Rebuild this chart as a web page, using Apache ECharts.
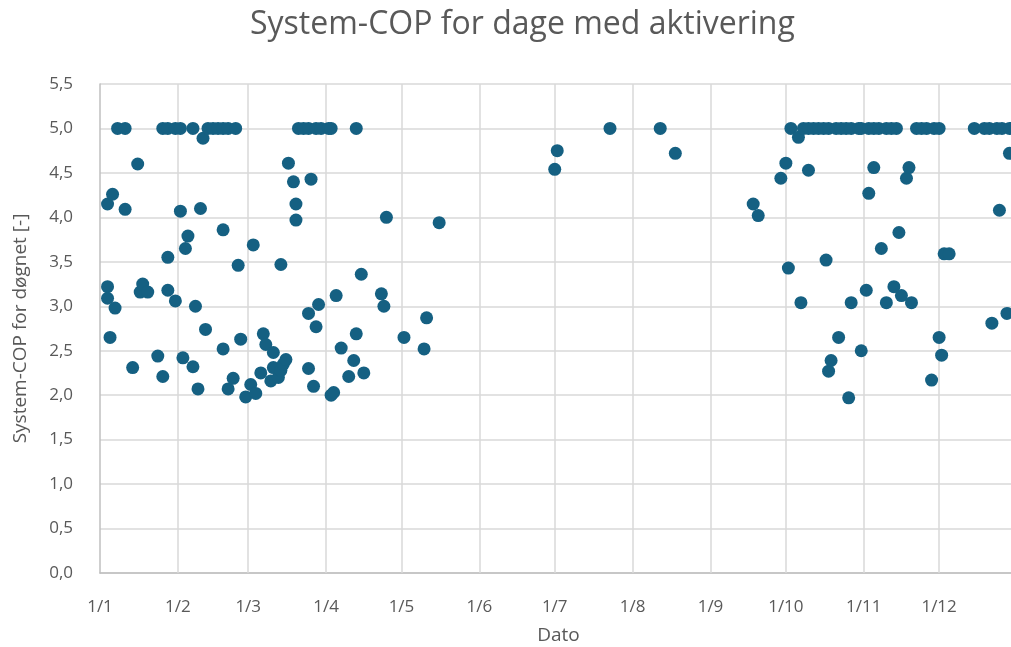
<!DOCTYPE html>
<html>
<head>
<meta charset="utf-8">
<script src="https://cdn.jsdelivr.net/npm/echarts@6/dist/echarts.min.js"></script>
<style>
  html, body { margin: 0; padding: 0; background: #ffffff; }
  #chart { width: 1011px; height: 647px; }
</style>
</head>
<body>
<div id="chart"></div>
<script>
// Daily system COP on days with activation (values above 5 shown as 5,0)
const YEAR = 2023;
const days = [
  '01-04','01-04','01-04','01-05','01-06','01-07','01-08','01-11','01-11','01-14',
  '01-16','01-17','01-18','01-20','01-24','01-26','01-26','01-28','01-28','01-28',
  '01-31','01-31',
  '02-02','02-02','02-03','02-04','02-05','02-07','02-07','02-08','02-09','02-10',
  '02-11','02-12','02-13','02-15','02-17','02-19','02-19','02-19','02-21','02-21',
  '02-23','02-24','02-25','02-26','02-28',
  '03-02','03-03','03-04','03-06','03-07','03-08','03-10','03-11','03-11','03-13',
  '03-14','03-14','03-15','03-16','03-17','03-19','03-20','03-20','03-21','03-23',
  '03-25','03-25','03-25','03-26','03-27','03-28','03-28','03-29','03-30',
  '04-02','04-03','04-03','04-04','04-05','04-07','04-10','04-12','04-13','04-13',
  '04-15','04-16','04-23','04-24','04-25',
  '05-02','05-10','05-11','05-16',
  '07-01','07-02','07-23',
  '08-12','08-18',
  '09-18','09-20','09-29',
  '10-01','10-02','10-03','10-06','10-07','10-08','10-10','10-10','10-12','10-14',
  '10-16','10-17','10-18','10-18','10-19','10-21','10-22','10-23','10-25','10-26',
  '10-27','10-27','10-30','10-31','10-31',
  '11-02','11-03','11-03','11-05','11-05','11-07','11-08','11-10','11-10','11-12',
  '11-13','11-14','11-15','11-16','11-18','11-19','11-20','11-22','11-24','11-26',
  '11-28','11-29',
  '12-01','12-01','12-02','12-03','12-05','12-15','12-19','12-21','12-22','12-24',
  '12-25','12-26','12-28','12-29','12-29'
];
const cop = [
  4.15, 3.22, 3.09, 2.65, 4.26, 2.98, 5.00, 5.00, 4.09, 2.31,
  4.60, 3.16, 3.25, 3.16, 2.44, 5.00, 2.21, 5.00, 3.55, 3.18,
  5.00, 3.06,
  5.00, 4.07, 2.42, 3.65, 3.79, 5.00, 2.32, 3.00, 2.07, 4.10,
  4.89, 2.74, 5.00, 5.00, 5.00, 5.00, 3.86, 2.52, 5.00, 2.07,
  2.19, 5.00, 3.46, 2.63, 1.98,
  2.12, 3.69, 2.02, 2.25, 2.69, 2.57, 2.16, 2.48, 2.31, 2.20,
  3.47, 2.28, 2.35, 2.40, 4.61, 4.40, 4.15, 3.97, 5.00, 5.00,
  5.00, 2.92, 2.30, 4.43, 2.10, 5.00, 2.77, 3.02, 5.00,
  5.00, 5.00, 2.00, 2.03, 3.12, 2.53, 2.21, 2.39, 5.00, 2.69,
  3.36, 2.25, 3.14, 3.00, 4.00,
  2.65, 2.52, 2.87, 3.94,
  4.54, 4.75, 5.00,
  5.00, 4.72,
  4.15, 4.02, 4.44,
  4.61, 3.43, 5.00, 4.90, 3.04, 5.00, 5.00, 4.53, 5.00, 5.00,
  5.00, 3.52, 5.00, 2.27, 2.39, 5.00, 2.65, 5.00, 5.00, 1.97,
  5.00, 3.04, 5.00, 5.00, 2.50,
  3.18, 5.00, 4.27, 5.00, 4.56, 5.00, 3.65, 5.00, 3.04, 5.00,
  3.22, 5.00, 3.83, 3.12, 4.44, 4.56, 3.04, 5.00, 5.00, 5.00,
  2.17, 5.00,
  5.00, 2.65, 2.45, 3.59, 3.59, 5.00, 5.00, 5.00, 2.81, 5.00,
  4.08, 5.00, 2.92, 5.00, 4.72
];
// Month numbers for the date ticks (first day of each month)
const months = [1, 2, 3, 4, 5, 6, 7, 8, 9, 10, 11, 12];

// Dates are placed on a day-of-year scale (1 January = 0)
const DAY = 86400000;
const jan1 = Date.UTC(YEAR, 0, 1);
const dayOfYear = (m, d) => Math.round((Date.UTC(YEAR, m - 1, d) - jan1) / DAY);
const points = days.map((s, i) => {
  const [m, d] = s.split('-').map(Number);
  return [dayOfYear(m, d), cop[i]];
});
const monthDays = months.map(m => dayOfYear(m, 1));
const yearLength = Math.round((Date.UTC(YEAR + 1, 0, 1) - jan1) / DAY);
const tickText = {};
months.forEach((m, i) => { tickText[monthDays[i]] = '1/' + m; });

const FONT = '"Open Sans", "Noto Sans", sans-serif';
const GREY = '#595959';
const GRID = '#d9d9d9';

const chart = echarts.init(document.getElementById('chart'), null, { renderer: 'canvas' });
chart.setOption({
  backgroundColor: '#ffffff',
  animation: false,
  title: {
    text: 'System-COP for dage med aktivering',
    left: 245,
    top: 4,
    textStyle: { fontFamily: FONT, fontSize: 32, fontWeight: 'normal', color: GREY }
  },
  grid: { left: 100, right: -6, top: 84, bottom: 74, containLabel: false, outerBoundsMode: 'none' },
  xAxis: {
    type: 'value',
    min: 0,
    max: yearLength,
    name: 'Dato',
    nameLocation: 'middle',
    nameGap: 53,
    nameTextStyle: { fontFamily: FONT, fontSize: 19, color: GREY },
    axisLine: { show: true, lineStyle: { color: '#bfbfbf', width: 1.5 } },
    axisTick: { show: false },
    splitLine: { show: false },
    axisLabel: {
      customValues: monthDays,
      margin: 26,
      fontFamily: FONT,
      fontSize: 17,
      color: GREY,
      formatter: v => tickText[v] !== undefined ? tickText[v] : ''
    }
  },
  yAxis: {
    type: 'value',
    min: 0,
    max: 5.5,
    interval: 0.5,
    name: 'System-COP for døgnet [-]',
    nameLocation: 'middle',
    nameGap: 70,
    nameTextStyle: { fontFamily: FONT, fontSize: 19, color: GREY },
    axisLine: { show: true, lineStyle: { color: '#bfbfbf', width: 1.5 } },
    axisTick: { show: false },
    splitLine: { show: true, lineStyle: { color: GRID, width: 1.5 } },
    axisLabel: {
      margin: 27,
      fontFamily: FONT,
      fontSize: 17,
      color: GREY,
      formatter: v => v.toFixed(1).replace('.', ',')
    }
  },
  series: [
    {
      // vertical month grid lines, drawn beneath the points
      type: 'scatter',
      data: [],
      z: 1,
      silent: true,
      markLine: {
        silent: true,
        symbol: ['none', 'none'],
        label: { show: false },
        lineStyle: { color: GRID, width: 1.5, type: 'solid' },
        data: monthDays.slice(1).map(t => ({ xAxis: t }))
      }
    },
    {
      type: 'scatter',
      z: 10,
      data: points,
      symbol: 'circle',
      symbolSize: 13,
      itemStyle: { color: '#156082', opacity: 1 }
    }
  ]
});
</script>
</body>
</html>
